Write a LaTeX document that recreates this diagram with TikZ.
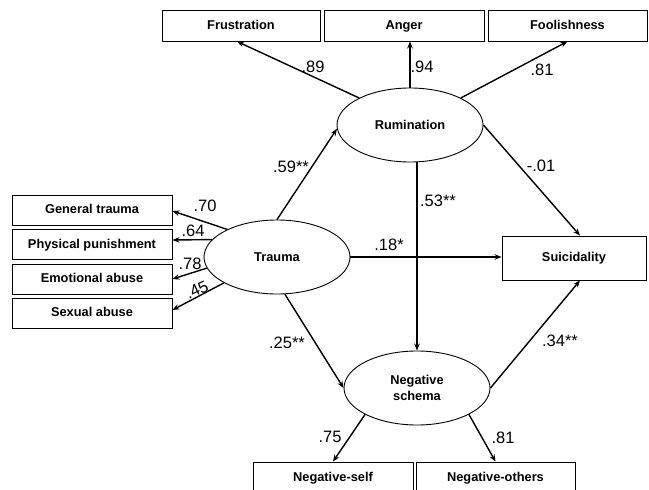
\documentclass[tikz,border=0pt]{standalone}
\usepackage{fontspec}
\setmainfont{Liberation Sans}
\usetikzlibrary{shapes.geometric,arrows.meta}

\begin{document}
\begin{tikzpicture}[x=1pt,y=-1pt,
  obs/.style={draw, line width=0.9pt, minimum height=31pt, inner sep=0pt, text height=9.5pt, text depth=2.5pt, font=\bfseries\fontsize{12.8}{14}\selectfont},
  lat/.style={draw, ellipse, line width=0.9pt, minimum width=146pt, minimum height=74pt, inner sep=0pt, align=center, font=\bfseries\fontsize{12.8}{16}\selectfont},
  arr/.style={line width=1.4pt, -{Stealth[length=7pt,width=5.5pt]}},
  coef/.style={inner sep=0pt, font=\fontsize{16.5}{18}\selectfont}]
\clip (0,0) rectangle (649,490);
\fill[white] (0,0) rectangle (649,490);

% rumination and its indicators
\node[obs, minimum width=158pt] (frus) at (241,25.5) {Frustration};
\node[obs, minimum width=160pt] (anger) at (404,25.5) {Anger};
\node[obs, minimum width=159pt] (fool) at (567.5,25.5) {Foolishness};
\node[lat] (rum) at (410,125) {Rumination};

% trauma and its indicators
\node[lat] (trauma) at (277,257) {Trauma};
\node[obs, minimum width=160pt, minimum height=30pt] (gen) at (92,210) {General trauma};
\node[obs, minimum width=160pt, minimum height=30pt] (phys) at (92,244.5) {Physical punishment};
\node[obs, minimum width=160pt, minimum height=30pt] (emo) at (92,279) {Emotional abuse};
\node[obs, minimum width=160pt, minimum height=30pt] (sex) at (92,313) {Sexual abuse};

% outcome
\node[obs, minimum width=144pt, minimum height=44pt] (suic) at (574,258) {Suicidality};

% negative schema and its indicators
\node[lat] (neg) at (417,388) {Negative\\schema};
\node[obs, minimum width=160pt] (nself) at (333,477.5) {Negative-self};
\node[obs, minimum width=159pt] (noth) at (495.5,477.5) {Negative-others};

% loadings
\draw[arr] (rum.152) -- ([xshift=-4pt]frus.south);
\draw[arr] (rum.north) -- (rum.north |- anger.south);
\draw[arr] (rum.28) -- (fool.south);
\draw[arr] (trauma.151) -- ([yshift=-1pt]gen.east);
\draw[arr] (trauma.165) -- ([yshift=4.5pt]phys.east);
\draw[arr] (trauma.189) -- (emo.east);
\draw[arr] (trauma.206) -- ([yshift=3pt]sex.east);
\draw[arr] (neg.207) -- (nself.north);
\draw[arr] (neg.-27) -- (noth.north);

% structural paths
\draw[arr] (trauma.north) -- (rum.183);
\draw[arr] (trauma.east) -- (trauma.east -| suic.west);
\draw[arr] (rum.east) -- ([xshift=6pt]suic.north);
\draw[arr] (rum.south -| neg.north) -- (neg.north);
\draw[arr] (trauma.-78) -- (neg.west);
\draw[arr] (neg.east) -- ([xshift=6pt]suic.south);

% coefficients
\node[coef] (c89) at (313,67) {.89};
\node[coef] (c94) at (422,67) {.94};
\node[coef] (c81a) at (542,70) {.81};
\node[coef] (c70) at (205,206) {.70};
\node[coef] (c64) at (193,231) {.64};
\node[coef] (c78) at (190,264) {.78};
\node[coef, rotate=25] (c45) at (197,290) {.45};
\node[coef] (c59) at (291,167) {.59**};
\node[coef] (c53) at (438,201) {.53**};
\node[coef] (c18) at (389,245) {.18*};
\node[coef] (c01) at (541,166) {-.01};
\node[coef] (c25) at (287,343) {.25**};
\node[coef] (c34) at (560,341) {.34**};
\node[coef] (c75) at (330,437) {.75};
\node[coef] (c81b) at (503,438) {.81};
\end{tikzpicture}
\end{document}
